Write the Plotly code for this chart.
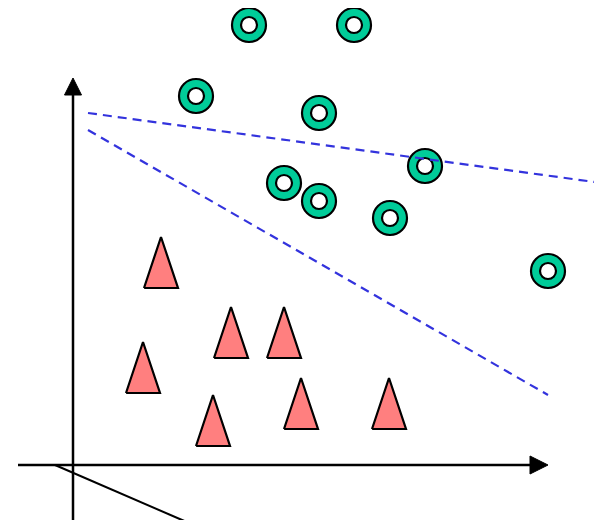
import plotly.graph_objects as go

# data coordinates: origin at the axis crossing, y upward
circle_x = [176, 281, 123, 246, 352, 211, 246, 317, 475]
circle_y = [440, 440, 369, 352, 299, 282, 264, 247, 194]

tri_x = [88, 158, 211, 70, 140, 228, 316]
tri_y = [202.5, 132.5, 132.5, 97.5, 44.5, 61.5, 61.5]

line1_x = [15, 529]
line1_y = [352, 282]
line2_x = [15, 475]
line2_y = [335, 70]

TRI_W = 34
TRI_H = 51

fig = go.Figure()

# triangles (tall, narrow) drawn as filled polygons
px, py = [], []
for cx, cy in zip(tri_x, tri_y):
    px.extend([cx - TRI_W/2, cx, cx + TRI_W/2, cx - TRI_W/2, None])
    py.extend([cy - TRI_H/2, cy + TRI_H/2, cy - TRI_H/2, cy - TRI_H/2, None])
fig.add_trace(go.Scatter(
    x=px, y=py, mode='lines', fill='toself',
    fillcolor='#FF7F7F', line=dict(color='black', width=2.2),
    hoverinfo='none'
))

# rings: outer green disc + inner white disc
fig.add_trace(go.Scatter(
    x=circle_x, y=circle_y, mode='markers',
    marker=dict(size=34, color='#00CC99', line=dict(color='black', width=2.2)),
    hoverinfo='none'
))
fig.add_trace(go.Scatter(
    x=circle_x, y=circle_y, mode='markers',
    marker=dict(size=16, color='white', line=dict(color='black', width=2.2)),
    hoverinfo='none'
))

# dashed separating lines (drawn over the markers)
for lx, ly in [(line1_x, line1_y), (line2_x, line2_y)]:
    fig.add_trace(go.Scatter(
        x=lx, y=ly, mode='lines',
        line=dict(color='#3333DD', width=2.2, dash='9px,6px'),
        hoverinfo='none'
    ))

axis_line = dict(color='black', width=2.5)
shapes = [
    # x axis
    dict(type='line', x0=-55, y0=0, x1=460, y1=0, line=axis_line),
    dict(type='path', path='M 457,9 L 475,0 L 457,-9 Z',
         fillcolor='black', line=dict(color='black', width=1)),
    # y axis
    dict(type='line', x0=0, y0=-60, x1=0, y1=372, line=axis_line),
    dict(type='path', path='M -8.5,370 L 0,387 L 8.5,370 Z',
         fillcolor='black', line=dict(color='black', width=1)),
    # oblique third axis
    dict(type='line', x0=-18, y0=0, x1=116, y1=-58, line=dict(color='black', width=2)),
]

# ranges shifted by the 8px page margin so the drawing lands where the reference has it
fig.update_layout(
    width=602, height=520,
    showlegend=False,
    margin=dict(l=0, r=0, t=0, b=0),
    paper_bgcolor='white', plot_bgcolor='white',
    xaxis=dict(range=[-65, 537], visible=False, showgrid=False, zeroline=False),
    yaxis=dict(range=[-63, 457], visible=False, showgrid=False, zeroline=False),
    shapes=shapes,
)

fig.write_html("out.html")
